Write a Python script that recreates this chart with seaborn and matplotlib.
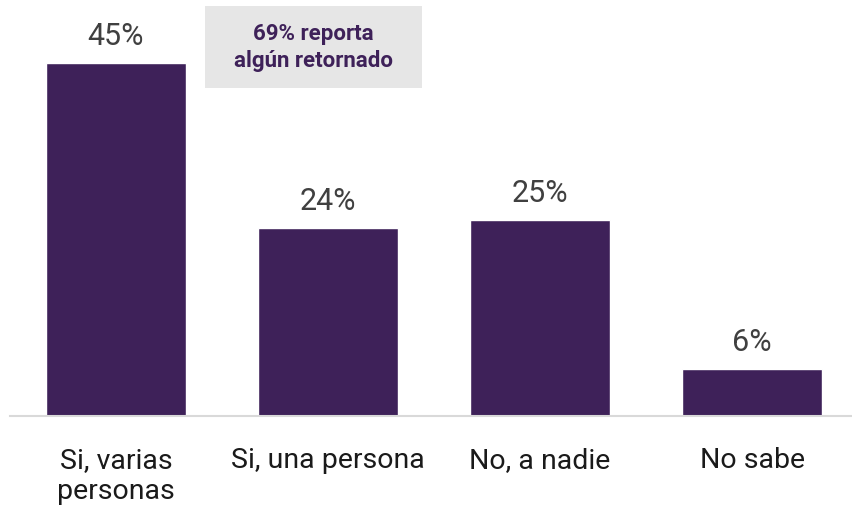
import matplotlib.pyplot as plt
import matplotlib.patches as mpatches
import numpy as np
import pandas as pd
import seaborn as sb

categorias = ["Si, varias\npersonas", "Si, una persona", "No, a nadie", "No sabe"]
valores = [45, 24, 25, 6]
etiquetas = ["45%", "24%", "25%", "6%"]
nota = "69% reporta\nalgún retornado"

df = pd.DataFrame({"cat": categorias, "val": valores})

sb.set_style("white")
plt.rcParams["font.family"] = ["Roboto", "DejaVu Sans"]

fig = plt.figure(figsize=(8.52, 5.13), dpi=100)
ax = fig.add_axes([10 / 852, 97 / 513, 848 / 852, 416 / 513])
sb.barplot(x="cat", y="val", data=df, color="#3e2159", width=0.66,
           saturation=1, ax=ax)

for i, (v, t) in enumerate(zip(valores, etiquetas)):
    ax.annotate(t, (i, v), xytext=(0, 13), textcoords="offset points",
                ha="center", va="baseline", fontsize=22, color="#404040")

# caja de nota
fig.patches.append(mpatches.Rectangle((205 / 852, 1 - 88 / 513), 217 / 852, 82 / 513,
                                      transform=fig.transFigure, fc="#e6e6e6",
                                      ec="none", zorder=0))
fig.text(313.5 / 852, 1 - 47.5 / 513, nota, ha="center", va="center",
         fontsize=16, fontweight="bold", color="#3e2159", linespacing=1.3)

ax.set_xlim(-0.5, 3.5)
ax.set_ylim(0, 53)
ax.set_xlabel("")
ax.set_ylabel("")
ax.set_yticks([])
ax.tick_params(axis="x", length=0, pad=22, labelsize=20.5, labelcolor="#1a1a1a")
for s in ["top", "right", "left"]:
    ax.spines[s].set_visible(False)
ax.spines["bottom"].set_color("#d9d9d9")
ax.spines["bottom"].set_linewidth(1.5)

plt.savefig("out.png", dpi=100)
